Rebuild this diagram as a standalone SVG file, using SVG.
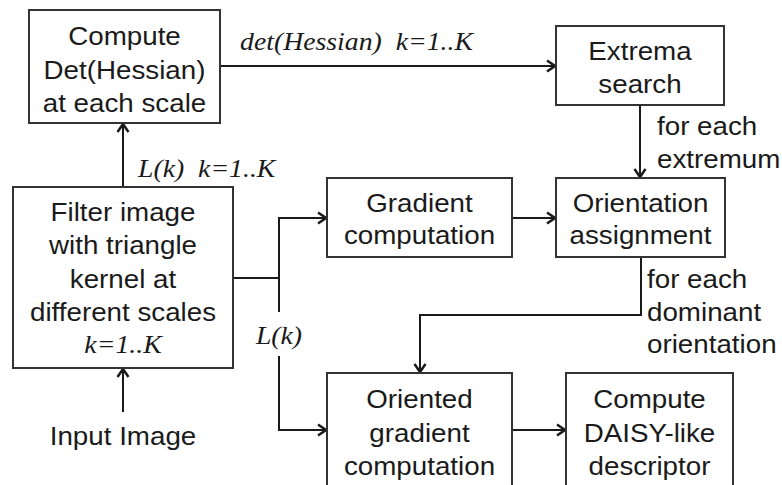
<svg xmlns="http://www.w3.org/2000/svg" width="782" height="485" viewBox="0 0 782 485">
<defs>
<style>
.box{fill:#fff;stroke:#333;stroke-width:2}
.ln{fill:none;stroke:#1a1a1a;stroke-width:2}
.t{font-family:"Liberation Sans",Arial,sans-serif;font-size:25px;fill:#1a1a1a}
.c{text-anchor:middle}
.i{font-family:"Liberation Serif","Times New Roman",serif;font-style:italic;font-size:25px;fill:#1a1a1a}
</style>
<marker id="ah" markerUnits="userSpaceOnUse" markerWidth="12" markerHeight="14" refX="10" refY="7" orient="auto">
<path d="M2,1.5 L10,7 L2,12.5" fill="none" stroke="#1a1a1a" stroke-width="2.5"/>
</marker>
</defs>
<rect width="782" height="485" fill="#fff"/>
<g id="connectors">
<path class="ln" d="M220,66 H555" marker-end="url(#ah)"/>
<path class="ln" d="M123,187 V124" marker-end="url(#ah)"/>
<path class="ln" d="M123,412 V369" marker-end="url(#ah)"/>
<path class="ln" d="M233,278 H279"/>
<path class="ln" d="M279,312 V218 H326" marker-end="url(#ah)"/>
<path class="ln" d="M279,356 V430 H326" marker-end="url(#ah)"/>
<path class="ln" d="M512,218 H555" marker-end="url(#ah)"/>
<path class="ln" d="M640,105 V177" marker-end="url(#ah)"/>
<path class="ln" d="M641,257 V315 H420 V372" marker-end="url(#ah)"/>
<path class="ln" d="M512,430 H565" marker-end="url(#ah)"/>
</g>
<g id="det-box"><rect class="box" x="29" y="10" width="191" height="113"/></g>
<g id="extrema-box"><rect class="box" x="556" y="26" width="168" height="79"/></g>
<g id="filter-box"><rect class="box" x="13" y="187" width="220" height="181"/></g>
<g id="gradient-box"><rect class="box" x="327" y="178" width="185" height="79"/></g>
<g id="orientation-box"><rect class="box" x="556" y="178" width="169" height="79"/></g>
<g id="oriented-box"><rect class="box" x="327" y="373" width="185" height="125"/></g>
<g id="daisy-box"><rect class="box" x="566" y="373" width="167" height="125"/></g>
<g id="texts" transform="scale(1.11,1)">
<text class="t c" x="112.16" y="45">Compute</text>
<text class="t c" x="112.16" y="79">Det(Hessian)</text>
<text class="t c" x="112.16" y="112">at each scale</text>
<text class="t c" x="576.58" y="60">Extrema</text>
<text class="t c" x="576.58" y="93">search</text>
<text class="t c" x="110.81" y="221">Filter image</text>
<text class="t c" x="110.81" y="254">with triangle</text>
<text class="t c" x="110.81" y="288">kernel at</text>
<text class="t c" x="110.81" y="321">different scales</text>
<text class="i c" x="110.81" y="353">k=1..K</text>
<text class="t c" x="110.81" y="445">Input Image</text>
<text class="t c" x="377.93" y="212">Gradient</text>
<text class="t c" x="377.93" y="244">computation</text>
<text class="t c" x="577.03" y="212">Orientation</text>
<text class="t c" x="577.03" y="244">assignment</text>
<text class="t c" x="377.93" y="408">Oriented</text>
<text class="t c" x="377.93" y="442">gradient</text>
<text class="t c" x="377.93" y="475">computation</text>
<text class="t c" x="585.14" y="408">Compute</text>
<text class="t c" x="585.14" y="442">DAISY-like</text>
<text class="t c" x="585.14" y="475">descriptor</text>
<text class="i" x="216.22" y="50" xml:space="preserve">det(Hessian)  k=1..K</text>
<text class="i" x="124.32" y="177" xml:space="preserve">L(k)  k=1..K</text>
<text class="i c" x="251.35" y="344">L(k)</text>
<text class="t" x="591.89" y="135">for each</text>
<text class="t" x="591.89" y="168">extremum</text>
<text class="t" x="582.88" y="288">for each</text>
<text class="t" x="582.88" y="321">dominant</text>
<text class="t" x="582.88" y="353">orientation</text>
</g>
</svg>
